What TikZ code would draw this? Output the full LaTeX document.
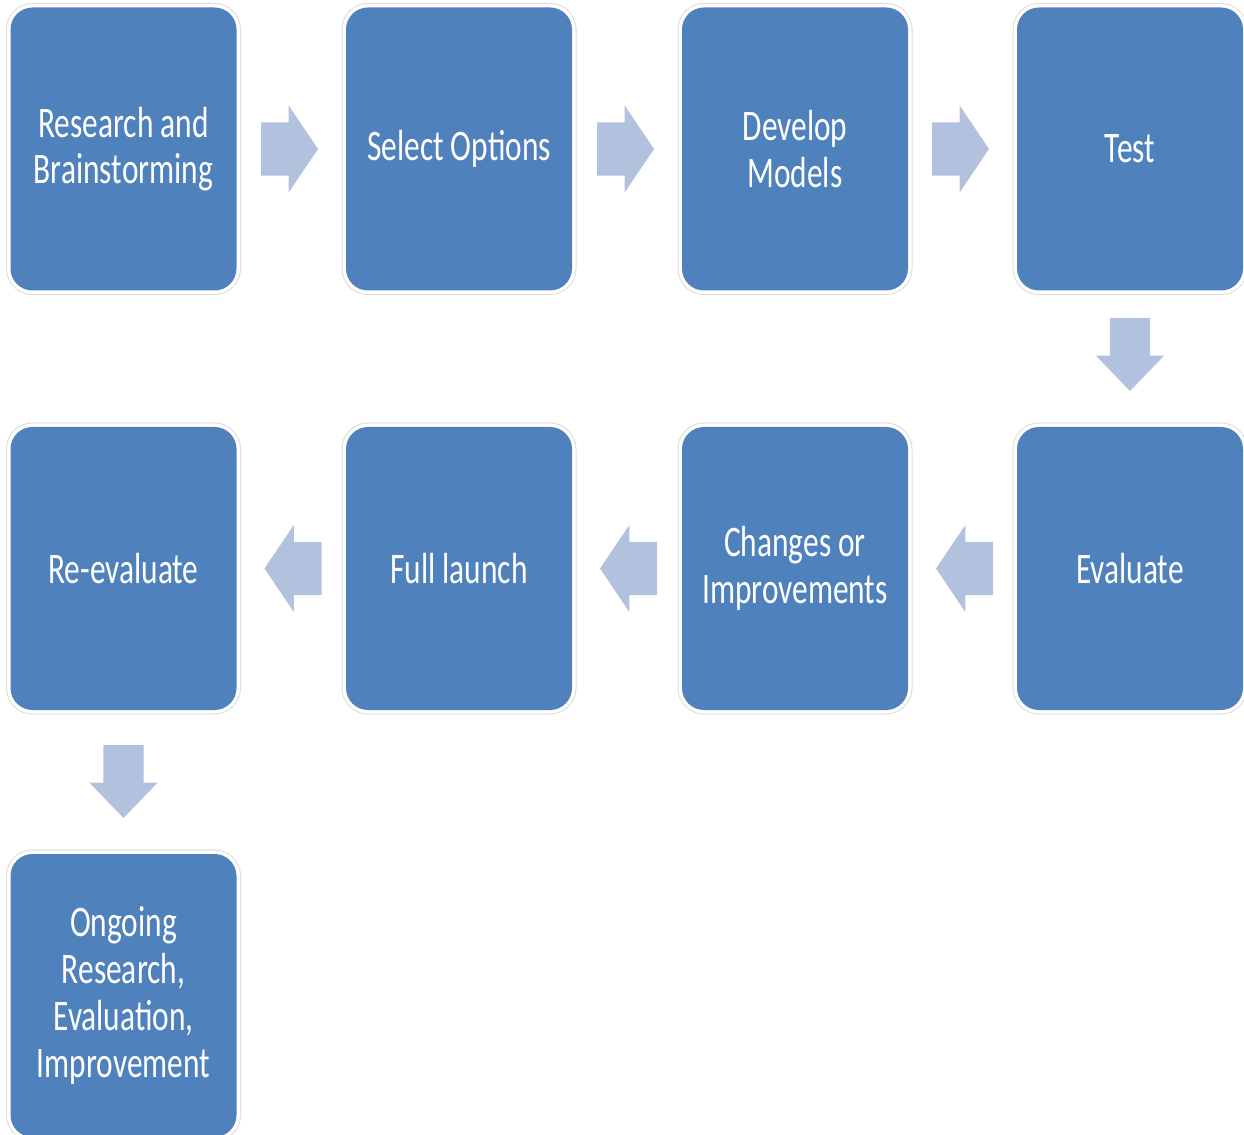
\documentclass[tikz,border=0pt]{standalone}
\usepackage{fontspec}
\newfontfamily\stageFont[FakeStretch=0.72]{Carlito}
\usetikzlibrary{shapes.arrows,calc}
\definecolor{StageBlue}{HTML}{4F81BD}
\definecolor{StepArrow}{HTML}{B2C1DD}
\colorlet{StageRing}{black!14}

\begin{document}
\begin{tikzpicture}[
    stagebox/.style={rectangle, rounded corners=0.22cm, fill=StageBlue,
      minimum width=2.26cm, minimum height=2.83cm, inner sep=0pt, outer sep=0pt,
      preaction={draw=StageRing, line width=0.09cm},
      preaction={draw=white, line width=0.07cm},
      text=white, align=center,
      font=\stageFont\fontsize{12.4}{13.3}\selectfont},
    flatarrow/.style={single arrow, fill=StepArrow, outer sep=0pt, anchor=tip,
      inner xsep=0pt, inner ysep=0.26cm, minimum width=0pt, minimum height=0.57cm,
      single arrow head extend=0.17cm, single arrow tip angle=112},
    droparrow/.style={single arrow, fill=StepArrow, outer sep=0pt, anchor=tip,
      inner xsep=0pt, inner ysep=0.195cm, minimum width=0pt, minimum height=0.73cm,
      single arrow head extend=0.14cm, single arrow tip angle=88, rotate=-90}
  ]

    \useasboundingbox (0, 0) rectangle (12.44, -11.35);

    % Column and row centres
    \def\colA{1.235}
    \def\colB{4.59}
    \def\colC{7.95}
    \def\colD{11.30}
    \def\rowA{-1.49}
    \def\rowB{-5.685}
    \def\rowC{-9.955}
    % Gap left between an arrow tip and the next box
    \def\tipGap{0.28}
    \def\dropGap{0.36}

    % ---------- First row, left to right

    \node[stagebox] (research) at (\colA, \rowA) {Research and\\Brainstorming};
    \node[stagebox] (options) at (\colB, \rowA) {Select Options};
    \node[stagebox] (models) at (\colC, \rowA) {Develop\\Models};
    \node[stagebox] (test) at (\colD, \rowA) {Test};

    \node[flatarrow] (researchToOptions) at ($(options.west) + (-\tipGap, 0)$) {};
    \node[flatarrow] (optionsToModels) at ($(models.west) + (-\tipGap, 0)$) {};
    \node[flatarrow] (modelsToTest) at ($(test.west) + (-\tipGap, 0)$) {};

    % ---------- Second row, right to left

    \node[stagebox] (evaluate) at (\colD, \rowB) {Evaluate};
    \node[stagebox] (changes) at (\colC, \rowB) {Changes or\\Improvements};
    \node[stagebox] (launch) at (\colB, \rowB) {Full launch};
    \node[stagebox] (reevaluate) at (\colA, \rowB) {Re-evaluate};

    \node[droparrow] (testToEvaluate) at ($(evaluate.north) + (0, \dropGap)$) {};
    \node[flatarrow, rotate=180] (evaluateToChanges) at ($(changes.east) + (\tipGap, 0)$) {};
    \node[flatarrow, rotate=180] (changesToLaunch) at ($(launch.east) + (\tipGap, 0)$) {};
    \node[flatarrow, rotate=180] (launchToReevaluate) at ($(reevaluate.east) + (\tipGap, 0)$) {};

    % ---------- Last stage

    \node[stagebox] (ongoing) at (\colA, \rowC) {Ongoing\\Research,\\Evaluation,\\Improvement};
    \node[droparrow] (reevaluateToOngoing) at ($(ongoing.north) + (0, \dropGap)$) {};

\end{tikzpicture}
\end{document}
